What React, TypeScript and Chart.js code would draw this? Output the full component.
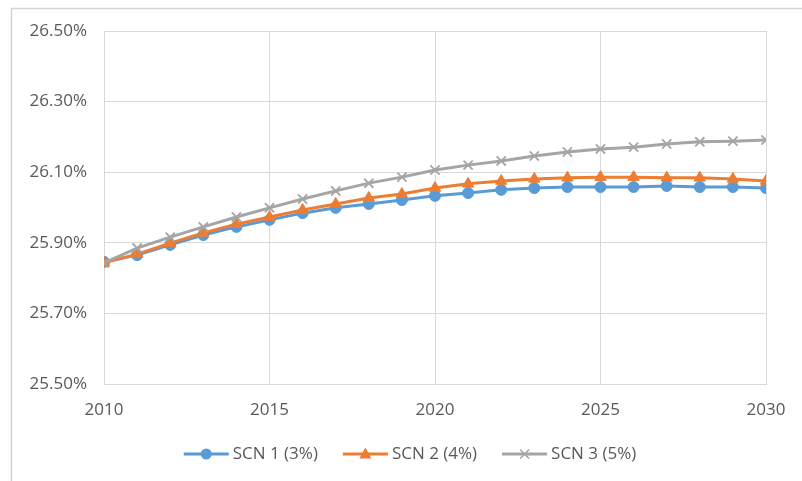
import React, { useEffect, useRef } from "react";
import { Chart, registerables } from "chart.js";

Chart.register(...registerables);

// Years on the horizontal axis
const years = [
  2010, 2011, 2012, 2013, 2014, 2015, 2016, 2017, 2018, 2019, 2020,
  2021, 2022, 2023, 2024, 2025, 2026, 2027, 2028, 2029, 2030,
];

// Ratio (%) per scenario
const scn1 = [
  25.846, 25.865, 25.894, 25.922, 25.945, 25.965, 25.984, 25.999, 26.01, 26.021, 26.033,
  26.041, 26.05, 26.055, 26.058, 26.058, 26.058, 26.061, 26.058, 26.058, 26.055,
];
const scn2 = [
  25.843, 25.868, 25.899, 25.928, 25.953, 25.973, 25.993, 26.01, 26.027, 26.038, 26.055,
  26.067, 26.075, 26.081, 26.084, 26.086, 26.086, 26.084, 26.084, 26.081, 26.075,
];
const scn3 = [
  25.843, 25.885, 25.916, 25.945, 25.973, 25.999, 26.024, 26.047, 26.069, 26.086, 26.106,
  26.12, 26.132, 26.146, 26.157, 26.166, 26.171, 26.18, 26.186, 26.188, 26.191,
];

const seriesNames = ["SCN 1 (3%)", "SCN 2 (4%)", "SCN 3 (5%)"];
const yTicks = [25.5, 25.7, 25.9, 26.1, 26.3, 26.5];
const xTicks = [2010, 2015, 2020, 2025, 2030];

const BLUE = "#5B9BD5";
const ORANGE = "#ED7D31";
const GRAY = "#A5A5A5";
const TEXT = "#595959";
const GRID = "#D9D9D9";
const FONT = "'Open Sans', 'Noto Sans', sans-serif";

const toPoints = (vals: number[]) => vals.map((y, i) => ({ x: years[i], y }));

// Draws the outer frame and a line+marker legend under the plot
const framePlugin = {
  id: "frameAndLegend",
  beforeDraw(chart: any) {
    const ctx = chart.ctx;
    ctx.save();
    ctx.fillStyle = "#ffffff";
    ctx.fillRect(0, 0, chart.width, chart.height);
    ctx.strokeStyle = "#D4D4D4";
    ctx.lineWidth = 1.5;
    ctx.beginPath();
    ctx.moveTo(11.5, chart.height);
    ctx.lineTo(11.5, 8.5);
    ctx.lineTo(chart.width, 8.5);
    ctx.stroke();
    ctx.restore();
  },
  afterDraw(chart: any) {
    const ctx = chart.ctx;
    const lineLen = 45;
    const gapText = 4;
    const gapItem = 25;
    const cy = 454;
    ctx.save();
    ctx.font = `17px ${FONT}`;
    ctx.textBaseline = "middle";
    ctx.textAlign = "left";
    const items = chart.data.datasets.map((ds: any) => ({
      ds,
      w: ctx.measureText(ds.label).width,
    }));
    const total =
      items.reduce((s: number, it: any) => s + lineLen + gapText + it.w, 0) +
      gapItem * (items.length - 1);
    let x = 410 - total / 2;
    for (const it of items) {
      const ds = it.ds;
      ctx.strokeStyle = ds.borderColor;
      ctx.lineWidth = 3;
      ctx.beginPath();
      ctx.moveTo(x, cy);
      ctx.lineTo(x + lineLen, cy);
      ctx.stroke();
      const mx = x + lineLen / 2;
      ctx.fillStyle = ds.pointBackgroundColor;
      ctx.strokeStyle = ds.pointBorderColor;
      if (ds.pointStyle === "circle") {
        ctx.beginPath();
        ctx.arc(mx, cy, 5.5, 0, Math.PI * 2);
        ctx.fill();
      } else if (ds.pointStyle === "triangle") {
        ctx.beginPath();
        ctx.moveTo(mx, cy - 6.5);
        ctx.lineTo(mx + 6, cy + 4.5);
        ctx.lineTo(mx - 6, cy + 4.5);
        ctx.closePath();
        ctx.fill();
      } else {
        ctx.lineWidth = 1.5;
        ctx.beginPath();
        ctx.moveTo(mx - 4.5, cy - 4.5);
        ctx.lineTo(mx + 4.5, cy + 4.5);
        ctx.moveTo(mx + 4.5, cy - 4.5);
        ctx.lineTo(mx - 4.5, cy + 4.5);
        ctx.stroke();
      }
      ctx.fillStyle = TEXT;
      ctx.fillText(ds.label, x + lineLen + gapText, cy);
      x += lineLen + gapText + it.w + gapItem;
    }
    ctx.restore();
  },
};

export default function App() {
  const canvasRef = useRef<HTMLCanvasElement | null>(null);

  useEffect(() => {
    const canvas = canvasRef.current;
    if (!canvas) return;
    const chart = new Chart(canvas, {
      type: "line",
      data: {
        datasets: [
          {
            label: seriesNames[0],
            data: toPoints(scn1),
            borderColor: BLUE,
            backgroundColor: BLUE,
            pointBackgroundColor: BLUE,
            pointBorderColor: BLUE,
            pointStyle: "circle",
            pointRadius: 5.5,
            pointBorderWidth: 1,
            borderWidth: 3,
            tension: 0,
            order: 2,
          },
          {
            label: seriesNames[1],
            data: toPoints(scn2),
            borderColor: ORANGE,
            backgroundColor: ORANGE,
            pointBackgroundColor: ORANGE,
            pointBorderColor: ORANGE,
            pointStyle: "triangle",
            pointRadius: 6.5,
            pointBorderWidth: 1,
            borderWidth: 3,
            tension: 0,
            order: 1,
          },
          {
            label: seriesNames[2],
            data: toPoints(scn3),
            borderColor: GRAY,
            backgroundColor: GRAY,
            pointBackgroundColor: GRAY,
            pointBorderColor: GRAY,
            pointStyle: "crossRot",
            pointRadius: 6.5,
            pointBorderWidth: 1.8,
            borderWidth: 3,
            tension: 0,
            order: 0,
          },
        ] as any,
      },
      options: {
        responsive: false,
        animation: false,
        devicePixelRatio: 1,
        layout: { padding: { left: 0, right: 36, top: 31, bottom: 0 } },
        plugins: {
          legend: { display: false },
          tooltip: { enabled: false },
        },
        scales: {
          x: {
            type: "linear",
            min: 2010,
            max: 2030,
            afterBuildTicks: (scale: any) => {
              scale.ticks = xTicks.map((v) => ({ value: v }));
            },
            afterFit: (scale: any) => {
              scale.height = 97;
            },
            ticks: {
              color: TEXT,
              font: { family: FONT, size: 17 },
              padding: 16,
              maxRotation: 0,
              callback: (v: any) => String(v),
            },
            grid: { color: GRID, lineWidth: 1, drawTicks: false },
            border: { color: GRID, width: 1 },
          },
          y: {
            type: "linear",
            min: 25.5,
            max: 26.5,
            afterBuildTicks: (scale: any) => {
              scale.ticks = yTicks.map((v) => ({ value: v }));
            },
            afterFit: (scale: any) => {
              scale.width = 104;
            },
            ticks: {
              color: TEXT,
              font: { family: FONT, size: 17 },
              padding: 17,
              callback: (v: any) => Number(v).toFixed(2) + "%",
            },
            grid: { color: GRID, lineWidth: 1, drawTicks: false },
            border: { display: false },
          },
        },
      },
      plugins: [framePlugin],
    });
    return () => chart.destroy();
  }, []);

  return (
    <div style={{ position: "absolute", left: 0, top: 0, width: 802, height: 481, background: "#fff" }}>
      <canvas ref={canvasRef} width={802} height={481} style={{ display: "block" }} />
    </div>
  );
}
